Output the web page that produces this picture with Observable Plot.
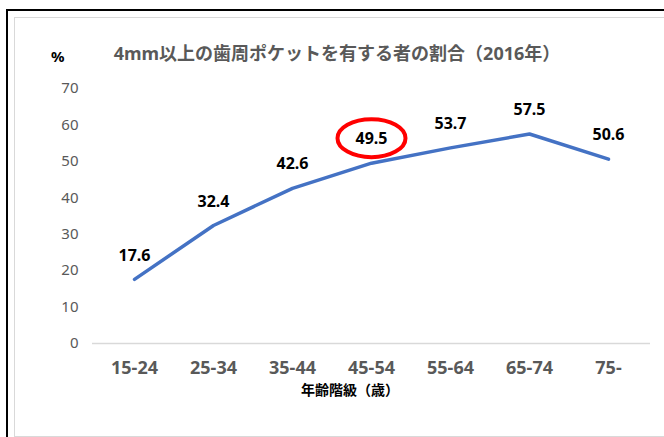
<!DOCTYPE html>
<html>
<head>
<meta charset="utf-8">
<script src="https://cdn.jsdelivr.net/npm/d3@7"></script>
<script src="https://cdn.jsdelivr.net/npm/@observablehq/plot@0.6"></script>
<style>
  html, body { margin: 0; padding: 0; background: #fff; }
  #wrap { position: relative; width: 664px; height: 437px; overflow: hidden; font-family: "Noto Sans", "Noto Sans CJK JP", sans-serif; }
  #outer { position: absolute; left: 6px; top: 9px; width: 700px; height: 500px; border-top: 2px solid #000; border-left: 2px solid #000; }
  #inner { position: absolute; left: 14px; top: 17px; width: 700px; height: 418px; border: 1px solid #d9d9d9; }
  #chart { position: absolute; left: 0; top: 0; }
  .txt { position: absolute; white-space: nowrap; font-weight: bold; line-height: 1.2; }
  #title { left: 2px; width: 670px; top: 43px; text-align: center; font-size: 18px; color: #595959; }
  #pct { left: 51px; top: 47px; font-size: 15px; color: #000; }
  #xtitle { left: 0; width: 700px; top: 382px; text-align: center; font-size: 14px; color: #000; }
</style>
</head>
<body>
<div id="wrap">
  <div id="outer"></div>
  <div id="inner"></div>
  <div id="chart"></div>
  <div class="txt" id="title">4mm以上の歯周ポケットを有する者の割合（2016年）</div>
  <div class="txt" id="pct">%</div>
  <div class="txt" id="xtitle">年齢階級（歳）</div>
</div>
<script>
const ageGroups = ["15-24", "25-34", "35-44", "45-54", "55-64", "65-74", "75-"];
const rates = [17.6, 32.4, 42.6, 49.5, 53.7, 57.5, 50.6];
const yTicks = [0, 10, 20, 30, 40, 50, 60, 70];
const highlighted = ["45-54"];

const data = ageGroups.map((g, i) => ({ group: g, value: rates[i] }));
const highlightData = data.filter(d => highlighted.includes(d.group));

// ellipse symbol for the highlight annotation
const ellipseSymbol = {
  draw(ctx, size) {
    const rx = 34, ry = 19, k = 0.5523;
    ctx.moveTo(rx, 0);
    ctx.bezierCurveTo(rx, ry * k, rx * k, ry, 0, ry);
    ctx.bezierCurveTo(-rx * k, ry, -rx, ry * k, -rx, 0);
    ctx.bezierCurveTo(-rx, -ry * k, -rx * k, -ry, 0, -ry);
    ctx.bezierCurveTo(rx * k, -ry, rx, -ry * k, rx, 0);
    ctx.closePath();
  }
};

const chart = Plot.plot({
  width: 664,
  height: 437,
  marginLeft: 92,
  marginRight: 14,
  marginTop: 88,
  marginBottom: 94,
  style: { background: "transparent", fontFamily: "'Noto Sans', 'Noto Sans CJK JP', sans-serif" },
  x: { type: "point", domain: ageGroups, padding: 0.5, label: null },
  y: { domain: [0, 70], label: null },
  marks: [
    Plot.ruleY([0], { stroke: "#d9d9d9", strokeWidth: 1.3 }),
    Plot.axisY({ ticks: yTicks, tickSize: 0, tickPadding: 14, fontSize: 15, color: "#595959", label: null }),
    Plot.axisX({ tickSize: 0, tickPadding: 18, fontSize: 18, fontWeight: "bold", color: "#595959", label: null }),
    Plot.line(data, { x: "group", y: "value", stroke: "#4472C4", strokeWidth: 3.5, strokeLinecap: "round", strokeLinejoin: "round" }),
    Plot.text(data, { x: "group", y: "value", text: d => d.value.toFixed(1), dy: -24, fontSize: 16, fontWeight: "bold", fill: "#000" }),
    Plot.dot(highlightData, { x: "group", y: "value", dy: -25, symbol: ellipseSymbol, r: 10, stroke: "#ff0000", strokeWidth: 4, fill: "none" })
  ]
});
document.getElementById("chart").appendChild(chart);
</script>
</body>
</html>
